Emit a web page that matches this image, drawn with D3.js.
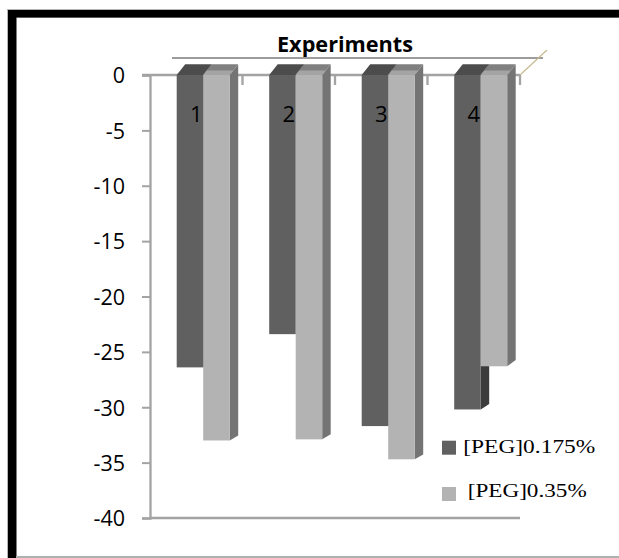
<!DOCTYPE html>
<html>
<head>
<meta charset="utf-8">
<script src="https://cdn.jsdelivr.net/npm/d3@7/dist/d3.min.js"></script>
<style>
  html, body { margin: 0; padding: 0; background: #fff; }
  svg { display: block; }
</style>
</head>
<body>
<svg id="chart" width="619" height="558"></svg>
<script>
// Experiment categories and the two PEG concentration series
const categories = ["1", "2", "3", "4"];
const seriesNames = ["[PEG]0.175%", "[PEG]0.35%"];
const peg0175 = [-26.4, -23.4, -31.7, -30.2];
const peg035 = [-33.0, -32.9, -34.7, -26.3];
const yTicks = [0, -5, -10, -15, -20, -25, -30, -35, -40];

const svgW = 619, svgH = 558;
const svg = d3.select("#chart");

// Styles for the two series: front, top and side faces of the 3D columns
const palette = [
  { front: "#606060", top: "#4c4c4c", side: "#3c3c3c", rim: null },
  { front: "#b3b3b3", top: "#808080", side: "#747474", rim: "#a4a4a4" }
];

// Outer frame
svg.append("rect").attr("x", 0).attr("y", 0).attr("width", svgW).attr("height", svgH).attr("fill", "#fff");
svg.append("rect").attr("x", 7).attr("y", 9).attr("width", svgW).attr("height", 9).attr("fill", "#b5b5b5");
svg.append("rect").attr("x", 7).attr("y", 9).attr("width", 10).attr("height", svgH).attr("fill", "#b5b5b5");
svg.append("rect").attr("x", 8).attr("y", 10).attr("width", svgW).attr("height", 7.5).attr("fill", "#000");
svg.append("rect").attr("x", 8).attr("y", 10).attr("width", 8.3).attr("height", svgH).attr("fill", "#000");
svg.append("rect").attr("x", 16).attr("y", 556).attr("width", svgW).attr("height", 2).attr("fill", "#b0b0b0");

// Scales
const y = d3.scaleLinear().domain([-40, 0]).range([518, 75]);
const x = d3.scaleBand().domain(categories).range([150, 520]).padding(0);
const xs = d3.scaleBand().domain(seriesNames).range([26.7, 79.7]).padding(0);

const depthX = 8.5;
// back-face vertical shift (slight oblique perspective)
const backY = v => v - 10.7 + 0.0156 * (v - y(0));

const axisColor = "#a3a3a3";

// Title and the line beneath it
svg.append("line").attr("x1", 172).attr("x2", 543).attr("y1", 58).attr("y2", 58)
  .attr("stroke", "#9c9c9c").attr("stroke-width", 2.2);
svg.append("text").attr("x", 345).attr("y", 52).attr("text-anchor", "middle")
  .attr("font-family", "'Open Sans', sans-serif").attr("font-weight", "bold").attr("font-size", 21.5)
  .attr("textLength", 136).attr("lengthAdjust", "spacingAndGlyphs")
  .attr("fill", "#000").text("Experiments");

// Category axis at zero with tick marks hanging down
const xAxisG = svg.append("g");
xAxisG.append("line").attr("x1", 142).attr("x2", 520).attr("y1", y(0)).attr("y2", y(0))
  .attr("stroke", axisColor).attr("stroke-width", 2.3);
xAxisG.selectAll("line.tk").data(categories).enter().append("line").attr("class", "tk")
  .attr("x1", d => x(d) + x.bandwidth()).attr("x2", d => x(d) + x.bandwidth())
  .attr("y1", y(0)).attr("y2", y(0) + 10)
  .attr("stroke", axisColor).attr("stroke-width", 2.3);
// diagonal depth edge at the right end of the axis
svg.append("line").attr("x1", 520).attr("y1", y(0)).attr("x2", 547).attr("y2", 50)
  .attr("stroke", "#c8b98f").attr("stroke-width", 1.2);

// Value axis
const yAxis = d3.axisLeft(y).tickValues(yTicks).tickSize(8).tickPadding(17).tickFormat(d => String(d));
const yAxisG = svg.append("g").attr("transform", "translate(150,0)").call(yAxis);
yAxisG.select(".domain").attr("stroke", axisColor).attr("stroke-width", 2.3);
yAxisG.selectAll(".tick line").attr("stroke", axisColor).attr("stroke-width", 2);
yAxisG.selectAll(".tick text").attr("font-family", "'Open Sans', sans-serif").attr("font-size", 21.5)
  .attr("fill", "#000").attr("dy", "0.36em");

// Floor line at the bottom of the value range
svg.append("line").attr("x1", 150).attr("x2", 520).attr("y1", y(-40)).attr("y2", y(-40))
  .attr("stroke", axisColor).attr("stroke-width", 2.3);

// 3D columns
const rows = categories.map((c, i) => ({ cat: c, vals: [peg0175[i], peg035[i]] }));
const poly = pts => "M" + pts.map(p => p.join(",")).join("L") + "Z";

rows.forEach(row => {
  const g = svg.append("g");
  row.vals.forEach((v, si) => {
    const x0 = x(row.cat) + xs(seriesNames[si]);
    const x1 = x0 + xs.bandwidth();
    const yt = y(0), yb = y(v);
    const col = palette[si];
    // side face
    g.append("path").attr("d", poly([[x1, yt], [x1 + depthX, backY(yt)], [x1 + depthX, backY(yb)], [x1, yb]]))
      .attr("fill", col.side);
    // front face
    g.append("rect").attr("x", x0).attr("y", yt).attr("width", x1 - x0).attr("height", yb - yt)
      .attr("fill", col.front);
    // top face
    g.append("path").attr("d", poly([[x0, yt], [x0 + depthX, backY(yt)], [x1 + depthX, backY(yt)], [x1, yt]]))
      .attr("fill", col.top);
    // lighter rim along the front of the top face
    if (col.rim) {
      const f = 0.42;
      const dy = (backY(yt) - yt) * f, dx = depthX * f;
      g.append("path").attr("d", poly([[x0, yt], [x0 + dx, yt + dy], [x1 + dx, yt + dy], [x1, yt]]))
        .attr("fill", col.rim);
    }
  });
  // category label drawn over the columns
  svg.append("text").attr("x", x(row.cat) + x.bandwidth() / 2).attr("y", 122)
    .attr("text-anchor", "middle").attr("font-family", "'Open Sans', sans-serif")
    .attr("font-size", 22).attr("fill", "#000").text(row.cat);
});

// Legend
const legend = [
  { name: seriesNames[0], color: palette[0].front, sq: 440.7, base: 453.3, tx: 463.3, len: 132 },
  { name: seriesNames[1], color: palette[1].front, sq: 487, base: 497.3, tx: 467.7, len: 119 }
];
legend.forEach(l => {
  svg.append("rect").attr("x", 442).attr("y", l.sq).attr("width", 14).attr("height", 14).attr("fill", l.color);
  svg.append("text").attr("x", l.tx).attr("y", l.base)
    .attr("font-family", "'Liberation Serif', 'Times New Roman', serif").attr("font-size", 19.5)
    .attr("textLength", l.len).attr("lengthAdjust", "spacingAndGlyphs")
    .attr("fill", "#000").text(l.name);
});
</script>
</body>
</html>
